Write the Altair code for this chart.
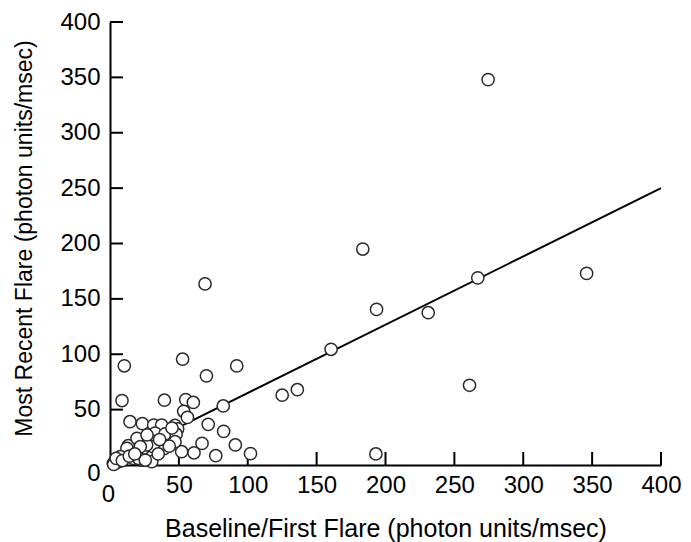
import altair as alt
import pandas as pd

# Data
baseline = [274.5, 183.5, 267, 346, 193.5, 231, 160.5, 261, 193, 136, 125, 69, 52.7, 92, 70,
            10.4, 8.7, 39.5, 55, 60.5, 82.2, 53.5, 56.2, 14.5, 23.5, 31.7, 37.5, 47.2, 49.1, 71.3,
            82.5, 91, 102, 76.8, 66.8, 61, 52, 39.2, 32.7, 39.9, 48, 47.2, 20.6, 28.5, 31.4,
            13.3, 24.2, 31.4, 26.6, 30.3, 23, 16.9, 10.9, 6, 2.4, 45, 19.6, 26.9, 12.3, 22,
            7.5, 20.8, 25.6, 3.8, 6.3, 2.7, 4.5, 9, 14, 18, 35, 43, 36]
recent = [348, 195, 169, 173, 140.5, 137.5, 104.5, 72, 10, 68, 63, 163.5, 95.5, 89.5, 80.5,
          89.6, 58.2, 58.5, 59, 56.5, 53.3, 48.5, 43, 39.1, 37.3, 36.1, 36.1, 35.8, 32.6, 36.7,
          30.4, 18.1, 10.3, 8.4, 19.5, 11, 12, 14.8, 28.8, 28, 27.8, 21, 22.6, 23.2, 21,
          17.4, 15.1, 16.5, 18.1, 3, 4.5, 6, 9, 4.5, 1.5, 33.4, 24.1, 27.1, 15, 16.5,
          7.5, 6, 4.5, 1.5, 3, 0.5, 6, 4, 8, 10, 10, 17, 23]
fit_x = [53, 400]
fit_y = [36, 250]
tick_values = [50, 100, 150, 200, 250, 300, 350, 400]
axis_values = [0, 50, 100, 150, 200, 250, 300, 350, 400]

W, H = 551, 443
FONT = "Liberation Sans"

pts = pd.DataFrame({"x": baseline, "y": recent})
fit = pd.DataFrame({"x": fit_x, "y": fit_y})
ticks = pd.DataFrame({"v": tick_values})

xscale = alt.Scale(domain=[0, 400], nice=False, zero=False)
yscale = alt.Scale(domain=[0, 400], nice=False, zero=False)

xaxis = alt.Axis(
    title="Baseline/First Flare (photon units/msec)",
    values=axis_values, ticks=False, tickSize=0, grid=False,
    domainColor="black", domainWidth=2,
    labelFont=FONT, labelFontSize=24, labelColor="black",
    labelPadding={"condition": {"test": "datum.value === 0", "value": 17}, "value": 8},
    labelOffset={"condition": {"test": "datum.value === 0", "value": -2}, "value": 0},
    labelFlush=False, labelOverlap=False,
    titleFont=FONT, titleFontSize=25, titleFontWeight="normal", titleColor="black",
    titlePadding=10,
)
yaxis = alt.Axis(
    title="Most Recent Flare (photon units/msec)",
    values=axis_values, ticks=False, tickSize=0, grid=False,
    domainColor="black", domainWidth=2,
    labelFont=FONT, labelFontSize=24, labelColor="black", labelPadding=10,
    labelOffset={"condition": {"test": "datum.value === 0", "value": 8}, "value": 0},
    labelFlush=False, labelOverlap=False,
    titleFont=FONT, titleFontSize=23, titleFontWeight="normal", titleColor="black",
    titlePadding=23, titleY=216,
)

points = alt.Chart(pts).mark_point(
    shape="circle", filled=True, fill="white", stroke="#2a2a2a", strokeWidth=1.5,
    size=150, opacity=1
).encode(
    x=alt.X("x:Q", scale=xscale, axis=xaxis),
    y=alt.Y("y:Q", scale=yscale, axis=yaxis),
)

line = alt.Chart(fit).mark_line(color="black", strokeWidth=2).encode(
    x=alt.X("x:Q", scale=xscale),
    y=alt.Y("y:Q", scale=yscale),
)

xticks = alt.Chart(ticks).mark_rule(color="black", strokeWidth=2).encode(
    x=alt.X("v:Q", scale=xscale),
    y=alt.value(H), y2=alt.value(H - 13),
)
yticks = alt.Chart(ticks).mark_rule(color="black", strokeWidth=2).encode(
    y=alt.Y("v:Q", scale=yscale),
    x=alt.value(0), x2=alt.value(13),
)

chart = alt.layer(xticks, yticks, line, points).properties(
    width=W, height=H,
    autosize=alt.AutoSizeParams(type="none"),
    padding={"left": 102, "top": 14, "right": 22, "bottom": 77},
    background="white",
).configure_view(stroke=None)

chart.save("out.html", embed_options={"renderer": "svg", "actions": False})
